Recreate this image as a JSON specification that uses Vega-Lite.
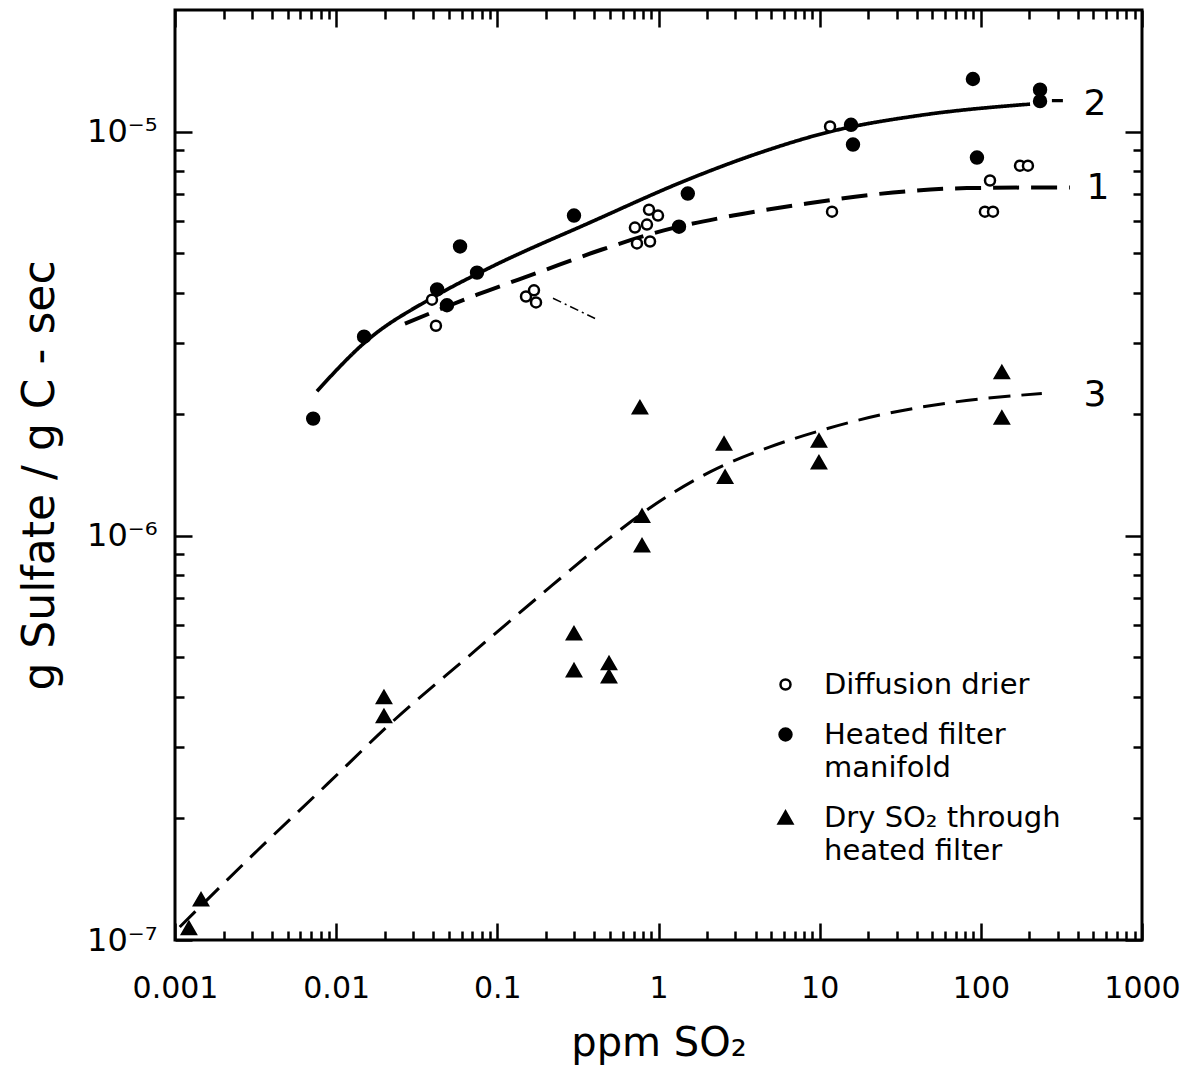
{
  "$schema": "https://vega.github.io/schema/vega-lite/v6.json",
  "width": 967,
  "height": 930,
  "autosize": {"type": "none"},
  "padding": {"left": 175, "top": 10, "right": 54, "bottom": 150},
  "background": "white",
  "config": {
    "view": {"stroke": "black", "strokeWidth": 3},
    "font": "DejaVu Sans",
    "style": {"guide-label": {"lineHeight": 33}}
  },
  "datasets": {
    "points": [
      {"method": "Heated filter|manifold", "ppm": 0.0072, "sulfate": 1.95e-6},
      {"method": "Heated filter|manifold", "ppm": 0.0149, "sulfate": 3.11e-6},
      {"method": "Heated filter|manifold", "ppm": 0.0423, "sulfate": 4.07e-6},
      {"method": "Heated filter|manifold", "ppm": 0.0487, "sulfate": 3.72e-6},
      {"method": "Heated filter|manifold", "ppm": 0.0587, "sulfate": 5.2e-6},
      {"method": "Heated filter|manifold", "ppm": 0.0748, "sulfate": 4.48e-6},
      {"method": "Heated filter|manifold", "ppm": 0.299, "sulfate": 6.2e-6},
      {"method": "Heated filter|manifold", "ppm": 1.34, "sulfate": 5.82e-6},
      {"method": "Heated filter|manifold", "ppm": 1.52, "sulfate": 7.03e-6},
      {"method": "Heated filter|manifold", "ppm": 15.65, "sulfate": 1.04e-5},
      {"method": "Heated filter|manifold", "ppm": 16.1, "sulfate": 9.29e-6},
      {"method": "Heated filter|manifold", "ppm": 89.3, "sulfate": 1.35e-5},
      {"method": "Heated filter|manifold", "ppm": 94.6, "sulfate": 8.63e-6},
      {"method": "Heated filter|manifold", "ppm": 233, "sulfate": 1.27e-5},
      {"method": "Heated filter|manifold", "ppm": 233, "sulfate": 1.19e-5},
      {"method": "Diffusion drier", "ppm": 0.0393, "sulfate": 3.84e-6},
      {"method": "Diffusion drier", "ppm": 0.0416, "sulfate": 3.31e-6},
      {"method": "Diffusion drier", "ppm": 0.1506, "sulfate": 3.91e-6},
      {"method": "Diffusion drier", "ppm": 0.1688, "sulfate": 4.05e-6},
      {"method": "Diffusion drier", "ppm": 0.1738, "sulfate": 3.78e-6},
      {"method": "Diffusion drier", "ppm": 0.873, "sulfate": 6.41e-6},
      {"method": "Diffusion drier", "ppm": 0.993, "sulfate": 6.2e-6},
      {"method": "Diffusion drier", "ppm": 0.714, "sulfate": 5.79e-6},
      {"method": "Diffusion drier", "ppm": 0.848, "sulfate": 5.89e-6},
      {"method": "Diffusion drier", "ppm": 0.735, "sulfate": 5.29e-6},
      {"method": "Diffusion drier", "ppm": 0.886, "sulfate": 5.35e-6},
      {"method": "Diffusion drier", "ppm": 11.6, "sulfate": 1.03e-5},
      {"method": "Diffusion drier", "ppm": 11.93, "sulfate": 6.34e-6},
      {"method": "Diffusion drier", "ppm": 114, "sulfate": 7.57e-6},
      {"method": "Diffusion drier", "ppm": 106, "sulfate": 6.34e-6},
      {"method": "Diffusion drier", "ppm": 119, "sulfate": 6.34e-6},
      {"method": "Diffusion drier", "ppm": 175, "sulfate": 8.24e-6},
      {"method": "Diffusion drier", "ppm": 196, "sulfate": 8.24e-6},
      {"method": "Dry SO₂ through|heated filter", "ppm": 0.00122, "sulfate": 1.07e-7},
      {"method": "Dry SO₂ through|heated filter", "ppm": 0.00145, "sulfate": 1.26e-7},
      {"method": "Dry SO₂ through|heated filter", "ppm": 0.0198, "sulfate": 3.99e-7},
      {"method": "Dry SO₂ through|heated filter", "ppm": 0.0198, "sulfate": 3.58e-7},
      {"method": "Dry SO₂ through|heated filter", "ppm": 0.767, "sulfate": 2.08e-6},
      {"method": "Dry SO₂ through|heated filter", "ppm": 2.55, "sulfate": 1.69e-6},
      {"method": "Dry SO₂ through|heated filter", "ppm": 2.59, "sulfate": 1.4e-6},
      {"method": "Dry SO₂ through|heated filter", "ppm": 9.9, "sulfate": 1.72e-6},
      {"method": "Dry SO₂ through|heated filter", "ppm": 9.9, "sulfate": 1.52e-6},
      {"method": "Dry SO₂ through|heated filter", "ppm": 0.79, "sulfate": 1.12e-6},
      {"method": "Dry SO₂ through|heated filter", "ppm": 0.79, "sulfate": 9.47e-7},
      {"method": "Dry SO₂ through|heated filter", "ppm": 0.299, "sulfate": 5.74e-7},
      {"method": "Dry SO₂ through|heated filter", "ppm": 0.299, "sulfate": 4.65e-7},
      {"method": "Dry SO₂ through|heated filter", "ppm": 0.493, "sulfate": 4.84e-7},
      {"method": "Dry SO₂ through|heated filter", "ppm": 0.493, "sulfate": 4.49e-7},
      {"method": "Dry SO₂ through|heated filter", "ppm": 135, "sulfate": 2.54e-6},
      {"method": "Dry SO₂ through|heated filter", "ppm": 135, "sulfate": 1.96e-6}
    ],
    "curves": [
      {"curve": "2", "ppm": 0.0076, "sulfate": 2.28e-6},
      {"curve": "2", "ppm": 0.0155, "sulfate": 3.04e-6},
      {"curve": "2", "ppm": 0.0399, "sulfate": 3.89e-6},
      {"curve": "2", "ppm": 0.09, "sulfate": 4.61e-6},
      {"curve": "2", "ppm": 0.376, "sulfate": 5.96e-6},
      {"curve": "2", "ppm": 1.57, "sulfate": 7.65e-6},
      {"curve": "2", "ppm": 4.08, "sulfate": 8.82e-6},
      {"curve": "2", "ppm": 11.6, "sulfate": 1.0e-5},
      {"curve": "2", "ppm": 43.8, "sulfate": 1.1e-5},
      {"curve": "2", "ppm": 202, "sulfate": 1.17e-5},
      {"curve": "2t", "ppm": 276, "sulfate": 1.193e-5},
      {"curve": "2t", "ppm": 323, "sulfate": 1.193e-5},
      {"curve": "1", "ppm": 0.0267, "sulfate": 3.35e-6},
      {"curve": "1", "ppm": 0.0748, "sulfate": 3.95e-6},
      {"curve": "1", "ppm": 0.1788, "sulfate": 4.48e-6},
      {"curve": "1", "ppm": 0.446, "sulfate": 5.11e-6},
      {"curve": "1", "ppm": 1.066, "sulfate": 5.69e-6},
      {"curve": "1", "ppm": 2.9, "sulfate": 6.2e-6},
      {"curve": "1", "ppm": 8.34, "sulfate": 6.64e-6},
      {"curve": "1", "ppm": 28.5, "sulfate": 7.07e-6},
      {"curve": "1", "ppm": 82, "sulfate": 7.25e-6},
      {"curve": "1", "ppm": 357, "sulfate": 7.28e-6},
      {"curve": "3", "ppm": 0.00107, "sulfate": 1.077e-7},
      {"curve": "3", "ppm": 0.00327, "sulfate": 1.67e-7},
      {"curve": "3", "ppm": 0.0089, "sulfate": 2.44e-7},
      {"curve": "3", "ppm": 0.0222, "sulfate": 3.46e-7},
      {"curve": "3", "ppm": 0.0677, "sulfate": 5.07e-7},
      {"curve": "3", "ppm": 0.176, "sulfate": 7.01e-7},
      {"curve": "3", "ppm": 0.452, "sulfate": 9.58e-7},
      {"curve": "3", "ppm": 0.8, "sulfate": 1.14e-6},
      {"curve": "3", "ppm": 2.09, "sulfate": 1.44e-6},
      {"curve": "3", "ppm": 4.92, "sulfate": 1.66e-6},
      {"curve": "3", "ppm": 10.05, "sulfate": 1.82e-6},
      {"curve": "3", "ppm": 23.7, "sulfate": 1.99e-6},
      {"curve": "3", "ppm": 61.7, "sulfate": 2.13e-6},
      {"curve": "3", "ppm": 239, "sulfate": 2.25e-6}
    ],
    "stray": [
      {"ppm": 0.2215, "sulfate": 3.87e-6},
      {"ppm": 0.404, "sulfate": 3.45e-6}
    ],
    "labels": [
      {"label": "2", "ppm": 511, "sulfate": 1.17e-5},
      {"label": "1", "ppm": 533, "sulfate": 7.27e-6},
      {"label": "3", "ppm": 511, "sulfate": 2.225e-6}
    ]
  },
  "layer": [
    {
      "data": {"name": "curves"},
      "mark": {"type": "line", "interpolate": "monotone", "color": "black"},
      "encoding": {
        "x": {
          "field": "ppm", "type": "quantitative",
          "scale": {"type": "log", "domain": [0.001, 1000], "nice": false},
          "axis": {
            "orient": "bottom",
            "values": [0.001,0.002,0.003,0.004,0.005,0.006,0.007,0.008,0.009,0.01,0.02,0.03,0.04,0.05,0.06,0.07,0.08,0.09,0.1,0.2,0.3,0.4,0.5,0.6,0.7,0.8,0.9,1,2,3,4,5,6,7,8,9,10,20,30,40,50,60,70,80,90,100,200,300,400,500,600,700,800,900,1000],
            "labelExpr": "datum.value==0.001?'0.001':datum.value==0.01?'0.01':datum.value==0.1?'0.1':datum.value==1?'1':datum.value==10?'10':datum.value==100?'100':datum.value==1000?'1000':''",
            "labelOverlap": false, "labelFlush": false, "labelBound": false,
            "labelFont": "DejaVu Sans", "labelFontSize": 30, "labelColor": "black",
            "labelPadding": 50,
            "tickSize": {"condition": {"test": "indexof([0.001,0.01,0.1,1,10,100,1000], datum.value) >= 0", "value": -17}, "value": -9},
            "tickColor": "black", "tickWidth": 2.5,
            "domain": false, "grid": false,
            "title": "ppm  SO₂", "titleFont": "DejaVu Sans", "titleFontSize": 40,
            "titleFontWeight": "normal", "titleColor": "black", "titlePadding": 12
          }
        },
        "y": {
          "field": "sulfate", "type": "quantitative",
          "scale": {"type": "log", "domain": [1e-7, 2e-5], "nice": false},
          "axis": {
            "orient": "left",
            "values": [1e-7,2e-7,3e-7,4e-7,5e-7,6e-7,7e-7,8e-7,9e-7,1e-6,2e-6,3e-6,4e-6,5e-6,6e-6,7e-6,8e-6,9e-6,1e-5],
            "labelExpr": "datum.value==1e-7?'10⁻⁷':datum.value==1e-6?'10⁻⁶':datum.value==1e-5?'10⁻⁵':''",
            "labelOverlap": false, "labelFlush": false, "labelBound": false,
            "labelFont": "DejaVu Sans", "labelFontSize": 32, "labelColor": "black",
            "labelPadding": 35,
            "tickSize": {"condition": {"test": "indexof([1e-7,1e-6,1e-5], datum.value) >= 0", "value": -17}, "value": -9},
            "tickColor": "black", "tickWidth": 2.5,
            "domain": false, "grid": false,
            "title": "g Sulfate / g C - sec", "titleFont": "DejaVu Sans", "titleFontSize": 44,
            "titleFontWeight": "normal", "titleColor": "black", "titlePadding": 24
          }
        },
        "detail": {"field": "curve"},
        "strokeDash": {
          "field": "curve", "type": "nominal",
          "scale": {"domain": ["1", "2", "2t", "3"], "range": [[26, 12], [1, 0], [1, 0], [22, 11]]},
          "legend": null
        },
        "strokeWidth": {
          "field": "curve", "type": "nominal",
          "scale": {"domain": ["1", "2", "2t", "3"], "range": [4, 3, 3.5, 4]},
          "legend": null
        }
      }
    },
    {
      "data": {"name": "points"},
      "mark": {"type": "point", "filled": true, "stroke": "black", "strokeWidth": 2.5, "opacity": 1},
      "encoding": {
        "x": {
          "field": "ppm", "type": "quantitative",
          "scale": {"type": "log", "domain": [0.001, 1000], "nice": false},
          "axis": {
            "orient": "top",
            "values": [0.001,0.002,0.003,0.004,0.005,0.006,0.007,0.008,0.009,0.01,0.02,0.03,0.04,0.05,0.06,0.07,0.08,0.09,0.1,0.2,0.3,0.4,0.5,0.6,0.7,0.8,0.9,1,2,3,4,5,6,7,8,9,10,20,30,40,50,60,70,80,90,100,200,300,400,500,600,700,800,900,1000],
            "labels": false,
            "tickSize": {"condition": {"test": "indexof([0.001,0.01,0.1,1,10,100,1000], datum.value) >= 0", "value": -17}, "value": -9},
            "tickColor": "black", "tickWidth": 2.5,
            "domain": false, "grid": false, "title": null
          }
        },
        "y": {
          "field": "sulfate", "type": "quantitative",
          "scale": {"type": "log", "domain": [1e-7, 2e-5], "nice": false},
          "axis": {
            "orient": "right",
            "values": [1e-7,2e-7,3e-7,4e-7,5e-7,6e-7,7e-7,8e-7,9e-7,1e-6,2e-6,3e-6,4e-6,5e-6,6e-6,7e-6,8e-6,9e-6,1e-5],
            "labels": false,
            "tickSize": {"condition": {"test": "indexof([1e-7,1e-6,1e-5], datum.value) >= 0", "value": -17}, "value": -9},
            "tickColor": "black", "tickWidth": 2.5,
            "domain": false, "grid": false, "title": null
          }
        },
        "fill": {
          "field": "method", "type": "nominal",
          "scale": {"domain": ["Diffusion drier", "Heated filter|manifold", "Dry SO₂ through|heated filter"], "range": ["white", "black", "black"]},
          "legend": {
            "title": null, "orient": "none", "legendX": 596, "legendY": 660,
            "labelExpr": "split(datum.label, '|')",
            "labelFont": "DejaVu Sans", "labelFontSize": 29, "labelColor": "black",
            "labelLimit": 0, "labelOffset": 24, "rowPadding": 20, "padding": 0,
            "symbolStrokeColor": "black", "symbolStrokeWidth": 2.5
          }
        },
        "shape": {
          "field": "method", "type": "nominal",
          "scale": {"domain": ["Diffusion drier", "Heated filter|manifold", "Dry SO₂ through|heated filter"], "range": ["circle", "circle", "triangle-up"]}
        },
        "size": {
          "field": "method", "type": "nominal",
          "scale": {"domain": ["Diffusion drier", "Heated filter|manifold", "Dry SO₂ through|heated filter"], "range": [100, 185, 300]}
        }
      }
    },
    {
      "data": {"name": "stray"},
      "mark": {"type": "line", "color": "black", "strokeWidth": 1.5, "strokeDash": [9, 4, 2, 4]},
      "encoding": {
        "x": {"field": "ppm", "type": "quantitative", "scale": {"type": "log", "domain": [0.001, 1000], "nice": false}, "axis": null},
        "y": {"field": "sulfate", "type": "quantitative", "scale": {"type": "log", "domain": [1e-7, 2e-5], "nice": false}, "axis": null}
      }
    },
    {
      "data": {"name": "labels"},
      "mark": {"type": "text", "font": "DejaVu Sans", "fontSize": 36, "color": "black", "align": "center", "baseline": "middle"},
      "encoding": {
        "x": {"field": "ppm", "type": "quantitative", "scale": {"type": "log", "domain": [0.001, 1000], "nice": false}, "axis": null},
        "y": {"field": "sulfate", "type": "quantitative", "scale": {"type": "log", "domain": [1e-7, 2e-5], "nice": false}, "axis": null},
        "text": {"field": "label"}
      }
    }
  ],
  "resolve": {"axis": {"x": "independent", "y": "independent"}}
}
